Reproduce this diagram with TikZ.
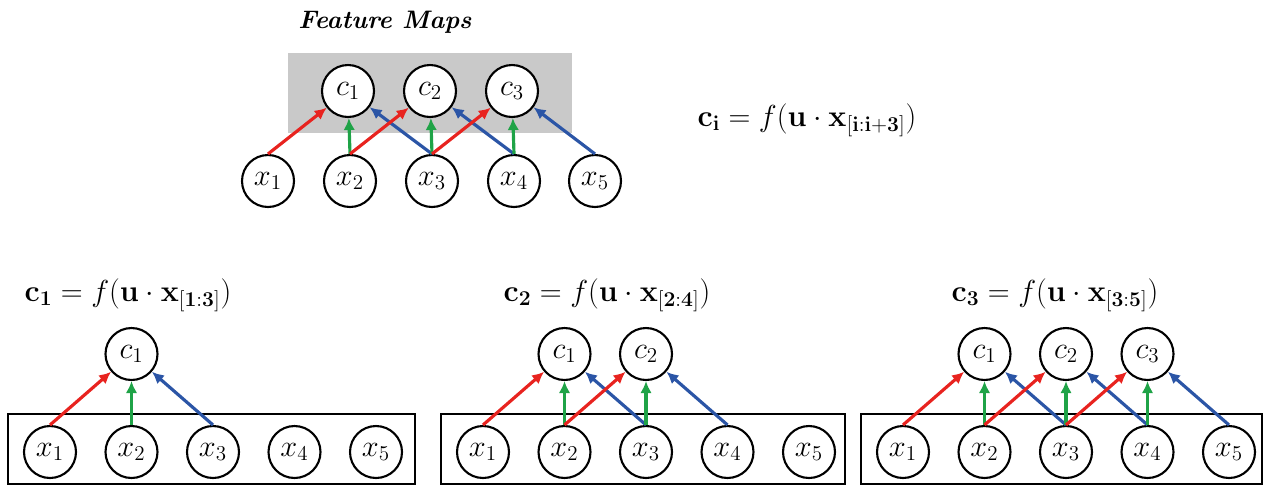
\documentclass[tikz,border=0pt]{standalone}
\usepackage{amsmath,amssymb}
\usepackage{xcolor}
\usepackage{tikz}
\usetikzlibrary{arrows.meta,positioning}
\definecolor{redarr}{HTML}{E8231F}
\definecolor{greenarr}{HTML}{1FA347}
\definecolor{bluearr}{HTML}{2B55A6}
\definecolor{mapgray}{HTML}{C9C9C9}

\begin{document}
\begin{tikzpicture}[
  x=0.02cm, y=-0.02cm,
  unit/.style={circle,draw,line width=1.2pt,fill=white,minimum size=1.04cm,inner sep=0pt,font=\LARGE},
  wgt/.style={-{Latex[length=2.4mm,width=2.3mm]},line width=1.8pt},
  wa/.style={wgt,draw=redarr},
  wb/.style={wgt,draw=greenarr},
  wc/.style={wgt,draw=bluearr},
  frame/.style={draw,line width=1.1pt},
  formula/.style={font=\LARGE}
]
\useasboundingbox (0,0) rectangle (1266,488);
% top: the whole feature map
\node[font=\Large\bfseries\itshape] (title) at (385,22) {Feature Maps};
\fill[mapgray] (288,53) rectangle (572,133);
\foreach \i/\px in {1/268,2/350,3/432,4/514,5/595}
  \node[unit] (tx\i) at (\px,181) {$x_{\i}$};
\foreach \j/\px in {1/348,2/430,3/512} {
  \node[unit] (tc\j) at (\px,91) {$c_{\j}$};
  \pgfmathtruncatemacro{\jb}{\j+1}
  \pgfmathtruncatemacro{\jc}{\j+2}
  \draw[wa] (tx\j.north) -- (tc\j);
  \draw[wb] (tx\jb.north) -- (tc\j);
  \draw[wc] (tx\jc.north) -- (tc\j);
}
\node[formula] (rule) at (807,120)
  {$\mathbf{c_i} = f(\mathbf{u}\cdot\mathbf{x}_{\mathbf{[i{:}i{+}3]}})$};
% bottom: one step of the window per panel
\foreach \p/\ox/\bx/\fx/\lo/\hi in {1/50/415/128/1/3,2/483/845/607/2/4,3/903/1262/1055/3/5} {
  \node[formula] (f\p) at (\fx,295)
    {$\mathbf{c_{\p}} = f(\mathbf{u}\cdot\mathbf{x}_{\mathbf{[\lo{:}\hi]}})$};
  \draw[frame] (\ox-42,414) rectangle (\bx,484);
  \foreach \i in {1,...,5}
    \node[unit] (p\p-x\i) at ({\ox+81.5*(\i-1)},452) {$x_{\i}$};
  \foreach \j in {1,...,\p} {
    \node[unit] (p\p-c\j) at ({\ox+81.5*\j},354) {$c_{\j}$};
    \pgfmathtruncatemacro{\jb}{\j+1}
    \pgfmathtruncatemacro{\jc}{\j+2}
    \draw[wa] (p\p-x\j.north) -- (p\p-c\j);
    \draw[wb] (p\p-x\jb.north) -- (p\p-c\j);
    \draw[wc] (p\p-x\jc.north) -- (p\p-c\j);
  }
}
\end{tikzpicture}
\end{document}
